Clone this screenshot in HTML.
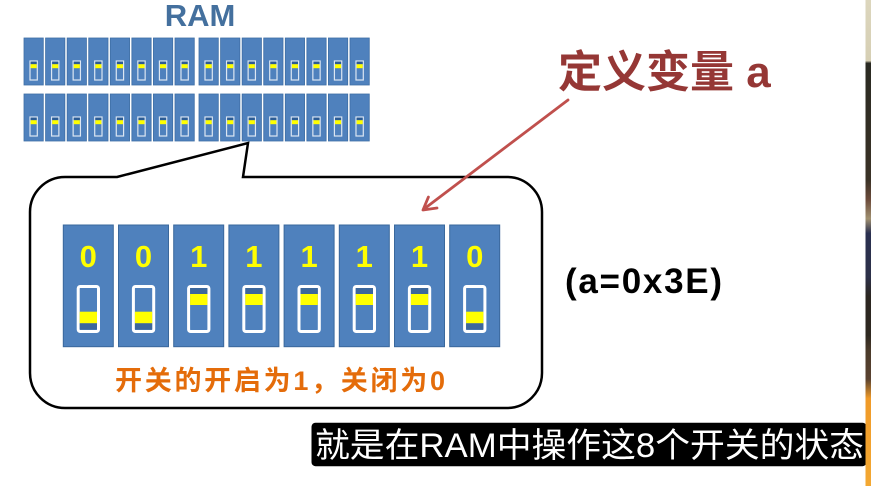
<!DOCTYPE html>
<html><head><meta charset="utf-8"><style>
html,body{margin:0;padding:0;background:#fff;}
body{width:871px;height:486px;overflow:hidden;position:relative;}
svg{position:absolute;left:0;top:0;}
</style></head><body>
<svg width="871" height="486" viewBox="0 0 871 486" xmlns="http://www.w3.org/2000/svg">
<defs>
<g id="rb">
<rect x="0" y="0" width="19.3" height="47" fill="#4f81bd" stroke="#3e6ea5" stroke-width="0.8"/>
<rect x="6" y="23" width="7.3" height="19" fill="#4f81bd" stroke="#dce6f2" stroke-width="1.2"/>
<rect x="6.6" y="23.6" width="6.1" height="2.6" fill="#2c5c94"/>
<rect x="6.6" y="26.2" width="6.1" height="4" fill="#ffff00"/>
</g>
<g id="sw0">
<rect x="0" y="0" width="50" height="121.7" fill="#4f81bd" stroke="#3a689c" stroke-width="1"/>
<rect x="14.9" y="61.5" width="20.3" height="45" rx="2" fill="#4f81bd" stroke="#ffffff" stroke-width="3"/>
<rect x="16.4" y="86.7" width="17.3" height="11.6" fill="#ffff00"/>
<rect x="16.4" y="98.3" width="17.3" height="6.2" fill="#3c679c"/>
</g>
<g id="sw1">
<rect x="0" y="0" width="50" height="121.7" fill="#4f81bd" stroke="#3a689c" stroke-width="1"/>
<rect x="14.9" y="61.5" width="20.3" height="45" rx="2" fill="#4f81bd" stroke="#ffffff" stroke-width="3"/>
<rect x="16.4" y="63" width="17.3" height="6" fill="#3c679c"/>
<rect x="16.4" y="69" width="17.3" height="11" fill="#ffff00"/>
</g>
<linearGradient id="strip" x1="0" y1="0" x2="0" y2="1">
<stop offset="0" stop-color="#dcd6bd"/>
<stop offset="0.125" stop-color="#d6cfb4"/>
<stop offset="0.13" stop-color="#2a2a22"/>
<stop offset="0.37" stop-color="#3a3226"/>
<stop offset="0.41" stop-color="#6b4a3a"/>
<stop offset="0.45" stop-color="#a09070"/>
<stop offset="0.48" stop-color="#2a3050"/>
<stop offset="0.57" stop-color="#2c3048"/>
<stop offset="0.61" stop-color="#2b2620"/>
<stop offset="0.69" stop-color="#2e2820"/>
<stop offset="0.72" stop-color="#4a3a2a"/>
<stop offset="0.78" stop-color="#5a4230"/>
<stop offset="0.82" stop-color="#f09a28"/>
<stop offset="1" stop-color="#f3a832"/>
</linearGradient>
</defs>

<!-- RAM title -->
<text x="200" y="26" text-anchor="middle" font-family="Liberation Sans, sans-serif" font-weight="bold" font-size="31" fill="#44709e">RAM</text>

<!-- RAM rows -->
<g>
<use href="#rb" x="24" y="38"/><use href="#rb" x="45.57" y="38"/><use href="#rb" x="67.14" y="38"/><use href="#rb" x="88.71" y="38"/>
<use href="#rb" x="110.28" y="38"/><use href="#rb" x="131.85" y="38"/><use href="#rb" x="153.42" y="38"/><use href="#rb" x="174.99" y="38"/>
<use href="#rb" x="199" y="38"/><use href="#rb" x="220.57" y="38"/><use href="#rb" x="242.14" y="38"/><use href="#rb" x="263.71" y="38"/>
<use href="#rb" x="285.28" y="38"/><use href="#rb" x="306.85" y="38"/><use href="#rb" x="328.42" y="38"/><use href="#rb" x="349.99" y="38"/>
<use href="#rb" x="24" y="94"/><use href="#rb" x="45.57" y="94"/><use href="#rb" x="67.14" y="94"/><use href="#rb" x="88.71" y="94"/>
<use href="#rb" x="110.28" y="94"/><use href="#rb" x="131.85" y="94"/><use href="#rb" x="153.42" y="94"/><use href="#rb" x="174.99" y="94"/>
<use href="#rb" x="199" y="94"/><use href="#rb" x="220.57" y="94"/><use href="#rb" x="242.14" y="94"/><use href="#rb" x="263.71" y="94"/>
<use href="#rb" x="285.28" y="94"/><use href="#rb" x="306.85" y="94"/><use href="#rb" x="328.42" y="94"/><use href="#rb" x="349.99" y="94"/>
</g>

<!-- speech bubble -->
<path d="M117 177 L248 143 L243 177 L507 177 A35 35 0 0 1 542 212 L542 373 A35 35 0 0 1 507 408 L65 408 A35 35 0 0 1 30 373 L30 212 A35 35 0 0 1 65 177 Z" fill="#ffffff" stroke="#000000" stroke-width="2.5" stroke-linejoin="miter"/>

<!-- 8 switches -->
<use href="#sw0" x="63.3" y="225"/>
<use href="#sw0" x="118.5" y="225"/>
<use href="#sw1" x="173.7" y="225"/>
<use href="#sw1" x="228.9" y="225"/>
<use href="#sw1" x="284.1" y="225"/>
<use href="#sw1" x="339.3" y="225"/>
<use href="#sw1" x="394.5" y="225"/>
<use href="#sw0" x="449.7" y="225"/>

<g font-family="Liberation Sans, sans-serif" font-weight="bold" font-size="31" fill="#ffff00" text-anchor="middle">
<text x="88.3" y="267">0</text>
<text x="143.5" y="267">0</text>
<text x="198.7" y="267">1</text>
<text x="253.9" y="267">1</text>
<text x="309.1" y="267">1</text>
<text x="364.3" y="267">1</text>
<text x="419.5" y="267">1</text>
<text x="474.7" y="267">0</text>
</g>

<text x="115" y="390" font-family="Liberation Sans, Noto Sans CJK SC, sans-serif" font-weight="bold" font-size="27" fill="#e46c0a" textLength="330" lengthAdjust="spacing">开关的开启为1，关闭为0</text>

<!-- arrow -->
<line x1="568" y1="100" x2="424" y2="209" stroke="#c0504d" stroke-width="2.8" stroke-linecap="round"/>
<polyline points="428.4,197.1 423,210 437,208" fill="none" stroke="#c0504d" stroke-width="2.8" stroke-linecap="round" stroke-linejoin="round"/>

<text x="558" y="87" font-family="Liberation Sans, Noto Sans CJK SC, sans-serif" font-weight="bold" font-size="44" fill="#953735">定义变量 a</text>

<text x="565" y="293" font-family="Liberation Sans, sans-serif" font-weight="bold" font-size="35" fill="#000" textLength="157" lengthAdjust="spacing">(a=0x3E)</text>

<!-- subtitle -->
<rect x="311.5" y="422.7" width="555" height="43.5" rx="4" fill="#000000"/>
<text x="315" y="457" font-family="Liberation Sans, Noto Sans CJK SC, sans-serif" font-size="34" fill="#ffffff" textLength="549" lengthAdjust="spacingAndGlyphs">就是在RAM中操作这8个开关的状态</text>

<!-- right photo strip -->
<rect x="865.5" y="0" width="5.5" height="486" fill="url(#strip)"/>
</svg>
</body></html>
